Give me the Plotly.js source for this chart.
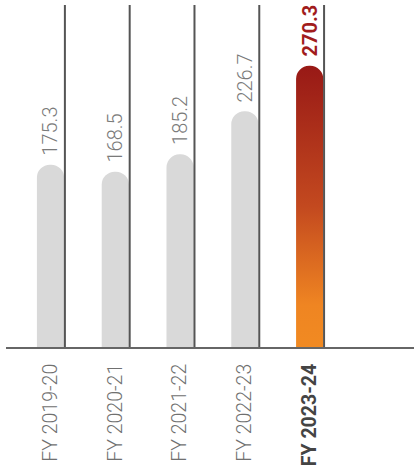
<!DOCTYPE html>
<html>
<head>
<meta charset="utf-8">
<script src="https://cdn.plot.ly/plotly-3.0.1.min.js"></script>
<style>html,body{margin:0;padding:0;background:#fff;}#chart{width:414px;height:468px;}</style>
</head>
<body>
<div id="chart"></div>
<script>
// Data
const categories = ["FY 2019-20", "FY 2020-21", "FY 2021-22", "FY 2022-23", "FY 2023-24"];
const values = [175.3, 168.5, 185.2, 226.7, 270.3];
const valueLabels = ["175.3", "168.5", "185.2", "226.7", "270.3"];
const highlightIndex = 4;

const idx = categories.map((c, i) => i);
const grayX = idx.filter(i => i !== highlightIndex);
const grayY = grayX.map(i => values[i]);

const traces = [
  {
    type: 'bar', x: grayX, y: grayY, width: 0.42,
    marker: {color: '#d9d9d9', cornerradius: '50%', line: {width: 0}},
    hoverinfo: 'skip'
  },
  {
    type: 'bar', x: [highlightIndex], y: [values[highlightIndex]], width: 0.42,
    marker: {color: '#c4481e', cornerradius: '50%', line: {width: 0}},
    hoverinfo: 'skip'
  }
];

const shapes = idx.map(i => ({
  type: 'line', xref: 'x', yref: 'paper', x0: i + 0.222, x1: i + 0.222, y0: 0, y1: 1,
  line: {color: '#555555', width: 2}, layer: 'above'
}));

const annotations = idx.map(i => ({
  x: i, y: values[i], xref: 'x', yref: 'y',
  text: i === highlightIndex ? '<b>' + valueLabels[i] + '</b>' : valueLabels[i],
  textangle: -90, showarrow: false, xanchor: 'center', yanchor: 'bottom', yshift: 7,
  font: {family: 'Roboto, sans-serif', size: 20, color: i === highlightIndex ? '#a11c1c' : '#7a7a7a',
         weight: i === highlightIndex ? 700 : 300}
}));

const tickText = categories.map((c, i) => i === highlightIndex
  ? '<b><span style="color:#444444">' + c + '</span></b>' : c);

const layout = {
  width: 414, height: 468,
  margin: {l: 6, r: 0, t: 5, b: 121},
  paper_bgcolor: '#ffffff', plot_bgcolor: '#ffffff',
  barmode: 'overlay', showlegend: false,
  xaxis: {
    range: [-0.687, 5.61], tickvals: idx, ticktext: tickText, tickangle: -90,
    showgrid: false, zeroline: false, showline: true, linecolor: '#666666', linewidth: 2,
    ticks: 'outside', ticklen: 7, tickcolor: 'rgba(0,0,0,0)',
    tickfont: {family: 'Roboto, sans-serif', size: 19.5, color: '#707070', weight: 300},
    fixedrange: true
  },
  yaxis: {
    range: [0, 328.8], visible: false, showgrid: false, zeroline: false, fixedrange: true
  },
  shapes: shapes,
  annotations: annotations
};

Plotly.newPlot('chart', traces, layout, {displayModeBar: false, staticPlot: true}).then(gd => {
  const svg = gd.querySelector('svg.main-svg');
  const ns = 'http://www.w3.org/2000/svg';
  let defs = svg.querySelector('defs');
  if (!defs) { defs = document.createElementNS(ns, 'defs'); svg.insertBefore(defs, svg.firstChild); }
  const grad = document.createElementNS(ns, 'linearGradient');
  grad.setAttribute('id', 'hlGrad');
  grad.setAttribute('x1', '0'); grad.setAttribute('y1', '0');
  grad.setAttribute('x2', '0'); grad.setAttribute('y2', '1');
  [['0', '#981916'], ['0.5', '#c3491f'], ['0.85', '#ef8522'], ['1', '#f18a22']].forEach(([o, c]) => {
    const s = document.createElementNS(ns, 'stop');
    s.setAttribute('offset', o); s.setAttribute('stop-color', c);
    grad.appendChild(s);
  });
  defs.appendChild(grad);
  const barTraces = gd.querySelectorAll('.barlayer .trace');
  const hl = barTraces[barTraces.length - 1];
  hl.querySelectorAll('path').forEach(p => { p.style.fill = 'url(#hlGrad)'; });
});
</script>
</body>
</html>
